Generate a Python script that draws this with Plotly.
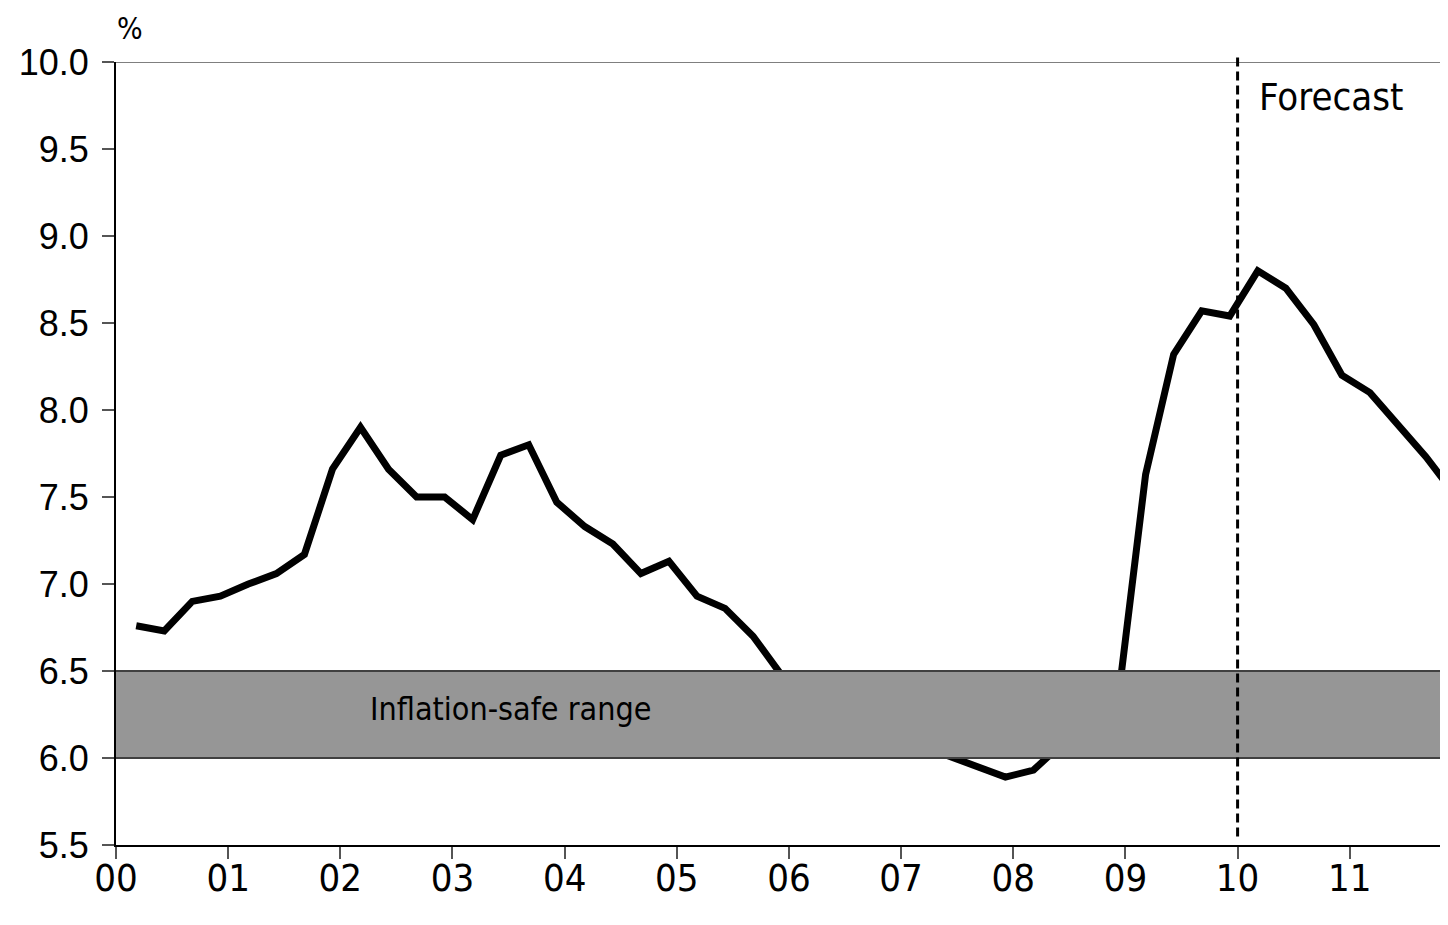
import plotly.graph_objects as go

# quarterly observations, first one at 2000 + 0.18
start_year = 0.18
rate = [6.76, 6.73, 6.90, 6.93, 7.00, 7.06, 7.17, 7.66, 7.90, 7.66, 7.50, 7.50,
        7.37, 7.74, 7.80, 7.47, 7.33, 7.23, 7.06, 7.13, 6.93, 6.86, 6.70, 6.48,
        6.35, 6.27, 6.20, 6.13, 6.07, 6.02, 5.96, 5.89, 5.93, 6.08, 6.20, 6.31,
        7.63, 8.32, 8.57, 8.54, 8.80, 8.70, 8.49, 8.20, 8.10, 7.92, 7.73, 7.52]
years = [start_year + 0.25 * i for i in range(len(rate))]

tick_vals = list(range(0, 12))
tick_text = ["00", "01", "02", "03", "04", "05", "06", "07", "08", "09", "10", "11"]
y_ticks = [5.5, 6.0, 6.5, 7.0, 7.5, 8.0, 8.5, 9.0, 9.5, 10.0]

band_low, band_high = 6.0, 6.5
forecast_start = 10.0
y_min, y_max = 5.5, 10.0

TEXT_FONT = "DejaVu Sans Condensed, DejaVu Sans, sans-serif"

fig = go.Figure()
fig.add_trace(go.Scatter(x=years, y=rate, mode="lines",
                         line=dict(color="black", width=7), hoverinfo="skip"))

# inflation-safe band sits on top of the line
fig.add_shape(type="rect", xref="x", yref="y", x0=-0.04, x1=13, y0=band_low, y1=band_high,
              fillcolor="#969696", line=dict(color="#404040", width=2), layer="above")
fig.add_annotation(x=3.52, y=6.28, text="Inflation-safe range",
                   showarrow=False, font=dict(family=TEXT_FONT, size=32, color="black"))

# top border line at 10.0
fig.add_shape(type="line", xref="x", yref="y", x0=-0.1, x1=13, y0=y_max, y1=y_max,
              line=dict(color="#555555", width=1.5), layer="below")

# forecast marker (paper y so it can poke slightly above the plot top)
fig.add_shape(type="line", xref="x", yref="paper", x0=forecast_start, x1=forecast_start,
              y0=0.011, y1=1.009, line=dict(color="black", width=3, dash="9px,5px"),
              layer="above")
fig.add_annotation(x=forecast_start + 0.17, y=9.8, text="Forecast", xanchor="left",
                   showarrow=False, font=dict(family=TEXT_FONT, size=38, color="black"))

fig.add_annotation(xref="paper", yref="paper", x=0.0105, y=1.043, text="%",
                   xanchor="center", yanchor="middle", showarrow=False,
                   font=dict(family=TEXT_FONT, size=30, color="black"))

fig.update_layout(
    width=1440, height=909,
    margin=dict(l=108, r=0, t=54, b=72),
    plot_bgcolor="white", paper_bgcolor="white",
    showlegend=False,
    xaxis=dict(range=[0, 11.876], tickvals=tick_vals, ticktext=tick_text,
               showgrid=False, zeroline=False,
               showline=True, linecolor="black", linewidth=2,
               ticks="outside", ticklen=12, tickwidth=1.5, tickcolor="#555555",
               tickfont=dict(family="Liberation Sans Narrow, DejaVu Sans Condensed, sans-serif",
                             size=38, color="black"),
               ticklabelstandoff=-14),
    yaxis=dict(range=[y_min, y_max], tickvals=y_ticks,
               ticktext=[f"{v:.1f}" for v in y_ticks],
               showgrid=False, zeroline=False,
               showline=True, linecolor="black", linewidth=2,
               ticks="outside", ticklen=12, tickwidth=1.5, tickcolor="#555555",
               tickfont=dict(family="Liberation Sans, Arial, sans-serif", size=36, color="black"),
               ticklabelstandoff=6),
)

fig.write_html("out.html")
